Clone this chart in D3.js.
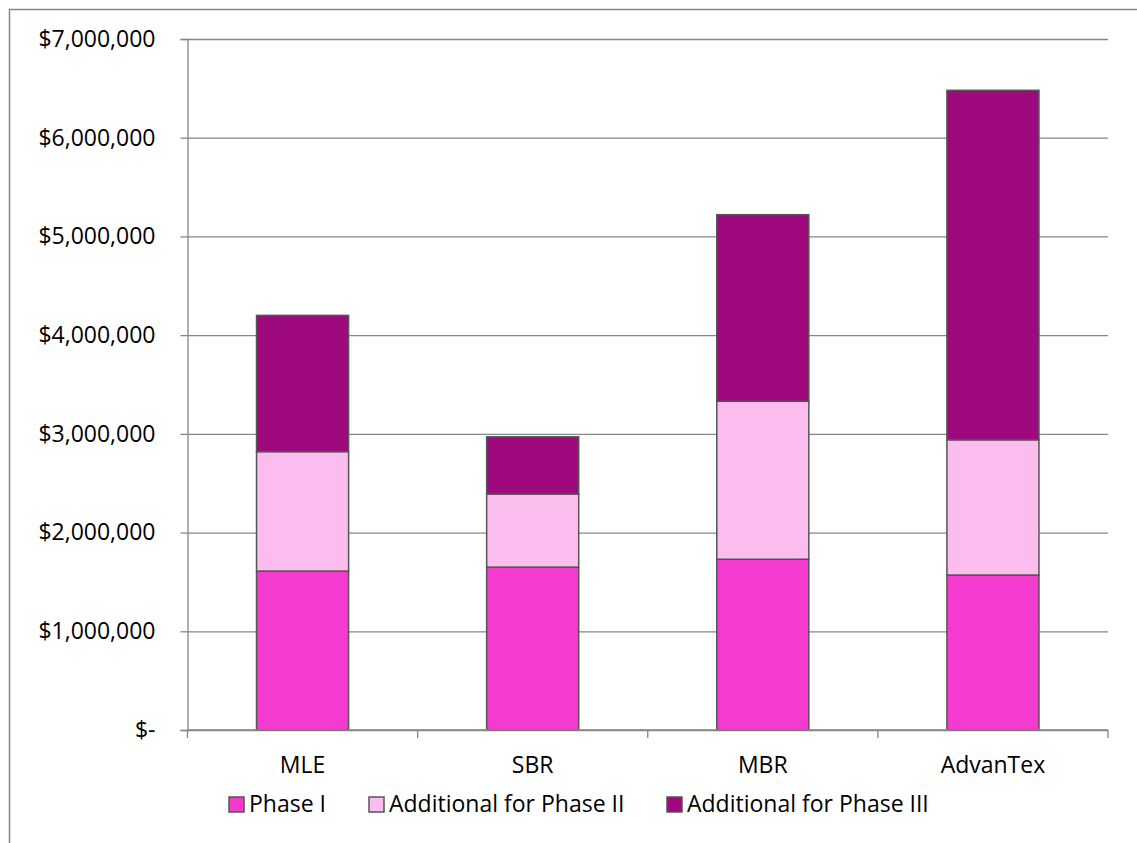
<!DOCTYPE html>
<html>
<head>
<meta charset="utf-8">
<script src="https://cdn.jsdelivr.net/npm/d3@7"></script>
<style>
  body { margin: 0; background: #fff; }
  text { font-family: "Open Sans", sans-serif; fill: #000; }
</style>
</head>
<body>
<svg width="1137" height="843"></svg>
<script>
// data
var categories = ['MLE', 'SBR', 'MBR', 'AdvanTex'];
var seriesNames = ['Phase I', 'Additional for Phase II', 'Additional for Phase III'];
var phase1 = [1610000, 1650000, 1730000, 1570000];
var phase2 = [1210000, 740000, 1600000, 1370000];
var phase3 = [1380000, 580000, 1890000, 3540000];
var yTicks = [0, 1000000, 2000000, 3000000, 4000000, 5000000, 6000000, 7000000];
var colors = ['#F43ACF', '#FBBDEE', '#9E0A7E'];

var svg = d3.select('svg');
// plot area (note: "top" is reserved on window, so use plot* names)
var plotL = 187.5, plotR = 1108, plotT = 39, plotB = 730;
var fontSize = '23px';

// outer chart border (runs off the page on the right and bottom)
svg.append('rect')
    .attr('x', 9.5).attr('y', 9.5)
    .attr('width', 1140).attr('height', 850)
    .attr('fill', 'none').attr('stroke', '#868686').attr('stroke-width', 1.5);

var y = d3.scaleLinear().domain([0, 7000000]).range([plotB, plotT]);
var x = d3.scaleBand().domain(categories).range([plotL, plotR])
    .paddingInner(0.6).paddingOuter(0.3);

var fmt = function(d) { return d === 0 ? '$-' : d3.format('$,')(d); };

// gridlines
svg.append('g')
    .attr('transform', 'translate(' + plotL + ',0)')
    .call(d3.axisLeft(y).tickValues(yTicks).tickSize(-(plotR - plotL)).tickFormat(''))
    .call(function(g) {
	g.select('.domain').remove();
	g.selectAll('line').attr('stroke', '#868686').attr('stroke-width', 1.3);
    });

// y axis
var yAxis = svg.append('g')
    .attr('transform', 'translate(' + plotL + ',0)')
    .call(d3.axisLeft(y).tickValues(yTicks).tickSize(7).tickPadding(25).tickFormat(fmt));
yAxis.select('.domain').attr('stroke', '#868686').attr('stroke-width', 1.3);
yAxis.selectAll('line').attr('stroke', '#868686').attr('stroke-width', 1.3);
yAxis.selectAll('text')
    .attr('font-family', null).attr('font-size', null)
    .style('font-size', fontSize).attr('fill', '#000');

// stacked bars
var rows = categories.map(function(c, i) {
    return { cat: c, p1: phase1[i], p2: phase2[i], p3: phase3[i] };
});
var stack = d3.stack().keys(['p1', 'p2', 'p3'])(rows);

svg.append('g').selectAll('g')
    .data(stack)
    .join('g')
    .attr('fill', function(d, i) { return colors[i]; })
    .selectAll('rect')
    .data(function(d) { return d; })
    .join('rect')
    .attr('x', function(d) { return x(d.data.cat); })
    .attr('y', function(d) { return y(d[1]); })
    .attr('width', x.bandwidth())
    .attr('height', function(d) { return y(d[0]) - y(d[1]); })
    .attr('stroke', '#555')
    .attr('stroke-width', 1.5);

// x axis line + category boundary ticks
var step = x.step();
var bounds = categories.map(function(c) { return x(c) - step * x.paddingOuter(); });
bounds.push(plotR);
var xg = svg.append('g');
xg.append('line')
    .attr('x1', plotL).attr('x2', plotR)
    .attr('y1', plotB).attr('y2', plotB)
    .attr('stroke', '#868686').attr('stroke-width', 1.3);
xg.selectAll('.tk')
    .data(bounds)
    .join('line')
    .attr('x1', function(d) { return d; }).attr('x2', function(d) { return d; })
    .attr('y1', plotB).attr('y2', plotB + 8)
    .attr('stroke', '#868686').attr('stroke-width', 1.3);
xg.selectAll('.lbl')
    .data(categories)
    .join('text')
    .attr('x', function(d) { return x(d) + x.bandwidth() / 2; })
    .attr('y', 773)
    .attr('text-anchor', 'middle')
    .style('font-size', fontSize)
    .text(function(d) { return d; });

// legend
var legendX = [229, 369, 667];
var legend = svg.append('g').selectAll('g')
    .data(seriesNames)
    .join('g')
    .attr('transform', function(d, i) { return 'translate(' + legendX[i] + ',797)'; });
legend.append('rect')
    .attr('width', 15).attr('height', 15)
    .attr('fill', function(d, i) { return colors[i]; })
    .attr('stroke', '#555').attr('stroke-width', 1.5);
legend.append('text')
    .attr('x', 20).attr('y', 15)
    .style('font-size', fontSize)
    .text(function(d) { return d; });
</script>
</body>
</html>
